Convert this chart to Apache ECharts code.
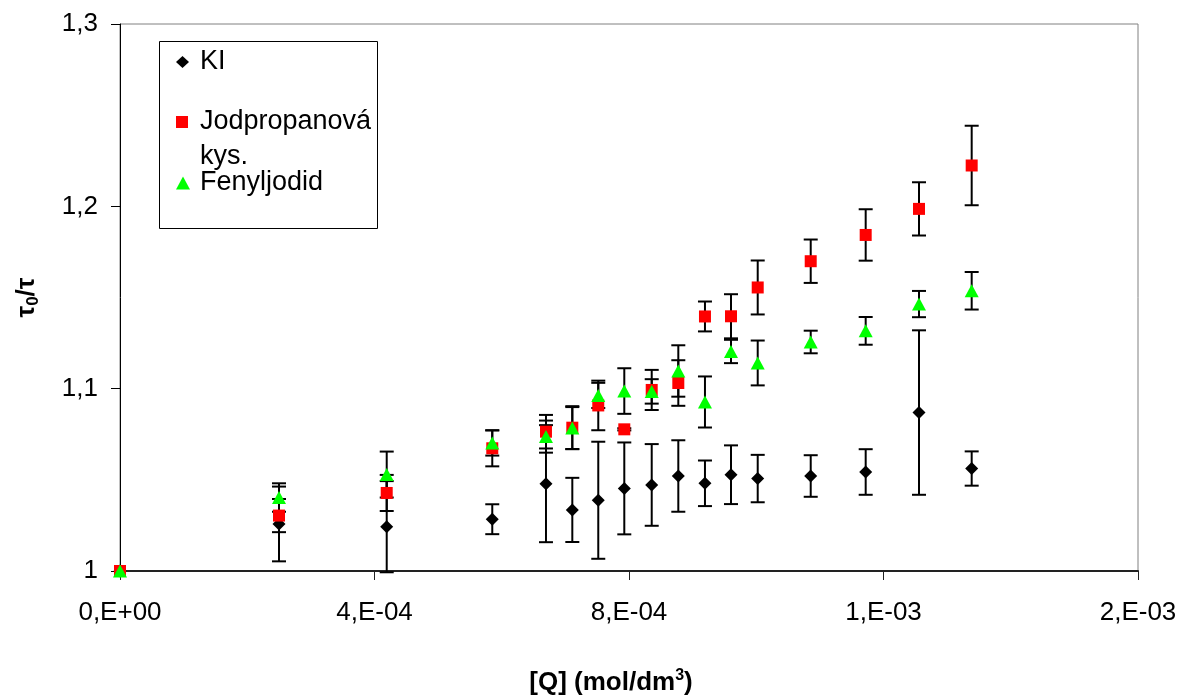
<!DOCTYPE html>
<html>
<head>
<meta charset="utf-8">
<script src="https://cdn.jsdelivr.net/npm/echarts@6.0.0/dist/echarts.min.js"></script>
<style>
  html, body { margin: 0; padding: 0; background: #fff; }
  #chart { width: 1184px; height: 695px; }
</style>
</head>
<body>
<div id="chart"></div>
<script>
// ---- data ----
const xValues = [0, 2.499e-4, 4.192e-4, 5.851e-4, 6.695e-4, 7.109e-4, 7.517e-4, 7.926e-4, 8.357e-4,
                 8.775e-4, 9.194e-4, 9.603e-4, 1.0023e-3, 1.0856e-3, 1.1720e-3, 1.2558e-3, 1.3386e-3];

const kiValues = [1.0000, 1.0258, 1.0243, 1.0284, 1.0479, 1.0335, 1.0388, 1.0453, 1.0472,
                  1.0521, 1.0481, 1.0528, 1.0507, 1.0521, 1.0543, 1.0869, 1.0562];
const kiErrors = [0, 0.0205, 0.0250, 0.0082, 0.0321, 0.0176, 0.0321, 0.0252, 0.0224,
                  0.0196, 0.0125, 0.0161, 0.0130, 0.0114, 0.0125, 0.0451, 0.0094];

const acidValues = [1.0000, 1.0304, 1.0428, 1.0673, 1.0764, 1.0786, 1.0908, 1.0777, 1.0993,
                    1.1031, 1.1396, 1.1397, 1.1555, 1.1699, 1.1843, 1.1986, 1.2224];
const acidErrors = [0, 0.0091, 0.0099, 0.0099, 0.0092, 0.0118, 0.0136, 0.0006, 0.0110,
                    0.0125, 0.0082, 0.0121, 0.0148, 0.0119, 0.0141, 0.0146, 0.0218];

const phenylValues = [1.0000, 1.0403, 1.0529, 1.0702, 1.0737, 1.0784, 1.0963, 1.0987, 1.0985,
                      1.1097, 1.0927, 1.1204, 1.1141, 1.1256, 1.1317, 1.1464, 1.1537];
const phenylErrors = [0, 0.0078, 0.0126, 0.0069, 0.0088, 0.0115, 0.0069, 0.0125, 0.0067,
                      0.0141, 0.0140, 0.0064, 0.0123, 0.0062, 0.0076, 0.0072, 0.0103];

const seriesNames = ['KI', 'Jodpropanová kys.', 'Fenyljodid'];
const xTickLabels = ['0,E+00', '4,E-04', '8,E-04', '1,E-03', '2,E-03'];
const yTickLabels = ['1', '1,1', '1,2', '1,3'];

const X_MIN = 0, X_MAX = 0.0016, X_STEP = 0.0004;
const Y_MIN = 1, Y_MAX = 1.3, Y_STEP = 0.1;

// ---- helpers ----
const FONT = "'Liberation Sans', Arial, sans-serif";

function points(vals) { return xValues.map((x, i) => [x, vals[i]]); }
function errData(vals, errs) {
  const out = [];
  xValues.forEach((x, i) => { if (errs[i] > 0) out.push([x, vals[i] - errs[i], vals[i] + errs[i]]); });
  return out;
}
function renderErr(params, api) {
  const x = api.value(0);
  const lo = api.coord([x, api.value(1)]);
  const hi = api.coord([x, api.value(2)]);
  const hw = 7;
  const st = { stroke: '#000', lineWidth: 2 };
  return {
    type: 'group',
    children: [
      { type: 'line', shape: { x1: lo[0], y1: lo[1], x2: hi[0], y2: hi[1] }, style: st },
      { type: 'line', shape: { x1: lo[0] - hw, y1: lo[1], x2: lo[0] + hw, y2: lo[1] }, style: st },
      { type: 'line', shape: { x1: hi[0] - hw, y1: hi[1], x2: hi[0] + hw, y2: hi[1] }, style: st }
    ]
  };
}
function errSeries(vals, errs) {
  return { type: 'custom', renderItem: renderErr, data: errData(vals, errs), z: 1,
           silent: true, clip: false, encode: { x: 0, y: [1, 2] } };
}
function legendFor(name, icon, w, h, top, padLeft, multi) {
  return {
    data: [name], icon: icon, left: 176, top: top, orient: 'vertical', padding: 0,
    itemWidth: w, itemHeight: h, selectedMode: false,
    // the two-line name gets an empty first line so that its first text line sits level with the icon
    formatter: n => multi ? '\n' + n.replace(' ', '\n') : n,
    textStyle: { fontFamily: FONT, fontSize: 27, color: '#000',
                 lineHeight: multi ? 35 : 30,
                 padding: [0, 0, 0, padLeft] }
  };
}

const chart = echarts.init(document.getElementById('chart'), null, { renderer: 'canvas' });
chart.setOption({
  backgroundColor: '#fff',
  animation: false,
  grid: { left: 120, right: 46, top: 24, bottom: 124, show: true, containLabel: false,
          outerBoundsMode: 'none',
          borderColor: '#808080', borderWidth: 1, backgroundColor: 'transparent' },
  xAxis: {
    type: 'value', min: X_MIN, max: X_MAX, interval: X_STEP,
    axisLine: { show: true, onZero: false, lineStyle: { color: '#222', width: 2 } },
    axisTick: { show: true, inside: false, length: 9, lineStyle: { color: '#222', width: 1 } },
    splitLine: { show: false },
    axisLabel: { margin: 29, fontFamily: FONT, fontSize: 26, color: '#000',
                 formatter: v => xTickLabels[Math.round((v - X_MIN) / X_STEP)] },
    name: '{t|[Q] (mol/dm}{sup|3}{t|)}',
    nameLocation: 'middle', nameGap: 97,
    nameTextStyle: {
      padding: [0, 36, 0, 0],
      rich: {
        t: { fontFamily: FONT, fontSize: 26, fontWeight: 'bold', color: '#000', lineHeight: 30 },
        sup: { fontFamily: FONT, fontSize: 16, fontWeight: 'bold', color: '#000', lineHeight: 16, verticalAlign: 'top' }
      }
    }
  },
  yAxis: {
    type: 'value', min: Y_MIN, max: Y_MAX, interval: Y_STEP,
    axisLine: { show: true, onZero: false, lineStyle: { color: '#000', width: 1 } },
    axisTick: { show: true, inside: false, length: 9, lineStyle: { color: '#000', width: 1 } },
    splitLine: { show: false },
    axisLabel: { margin: 22, fontFamily: FONT, fontSize: 26, color: '#000',
                 formatter: v => yTickLabels[Math.round((v - Y_MIN) / Y_STEP)] },
    name: '{t|τ}{sub|0}{t|/τ}',
    nameLocation: 'middle', nameGap: 78, nameRotate: 90,
    nameTextStyle: {
      rich: {
        t: { fontFamily: FONT, fontSize: 26, fontWeight: 'bold', color: '#000', lineHeight: 30 },
        sub: { fontFamily: FONT, fontSize: 17, fontWeight: 'bold', color: '#000', lineHeight: 17, verticalAlign: 'bottom' }
      }
    }
  },
  legend: [
    legendFor(seriesNames[0], 'diamond', 13, 12, 47, 6, false),
    legendFor(seriesNames[1], 'rect', 12, 12, 69.5, 7, true),
    legendFor(seriesNames[2], 'triangle', 14, 13, 168, 5, false)
  ],
  graphic: [
    { type: 'rect', shape: { x: 159.5, y: 41.5, width: 218, height: 187 },
      style: { fill: 'transparent', stroke: '#000', lineWidth: 1 }, z: 10 }
  ],
  series: [
    errSeries(kiValues, kiErrors),
    errSeries(acidValues, acidErrors),
    errSeries(phenylValues, phenylErrors),
    { name: seriesNames[0], type: 'scatter', data: points(kiValues), symbol: 'diamond',
      symbolSize: [13, 13], itemStyle: { color: '#000', opacity: 1 }, z: 3, clip: false },
    { name: seriesNames[1], type: 'scatter', data: points(acidValues), symbol: 'rect',
      symbolSize: [12, 12], itemStyle: { color: '#ff0000', opacity: 1 }, z: 4, clip: false },
    { name: seriesNames[2], type: 'scatter', data: points(phenylValues), symbol: 'triangle',
      symbolSize: [14, 13], itemStyle: { color: '#00ff00', opacity: 1 }, z: 5, clip: false }
  ]
});
</script>
</body>
</html>
